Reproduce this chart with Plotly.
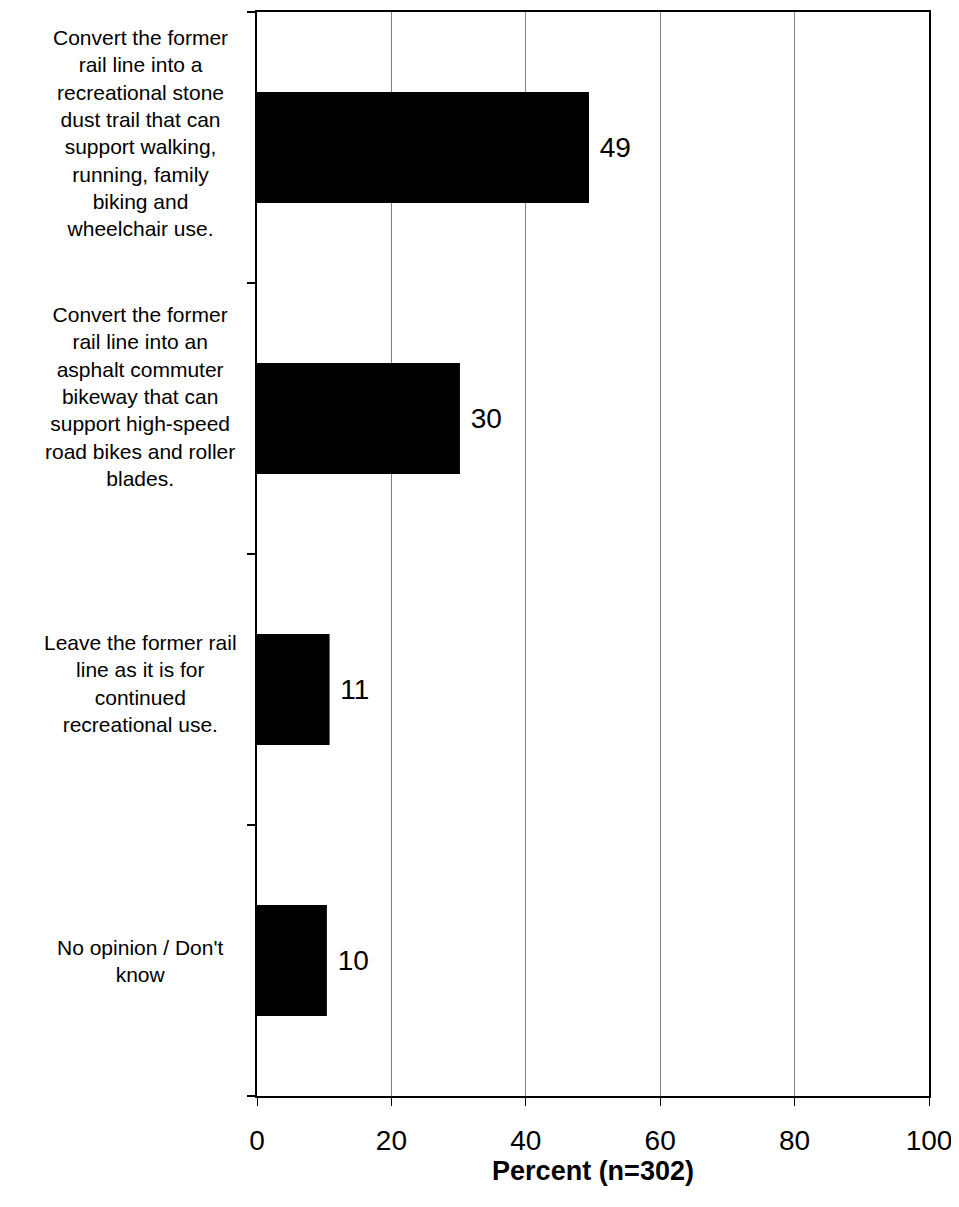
import plotly.graph_objects as go

categories = [
    "Convert the former<br>rail line into a<br>recreational stone<br>dust trail that can<br>support walking,<br>running, family<br>biking and<br>wheelchair use.",
    "Convert the former<br>rail line into an<br>asphalt commuter<br>bikeway that can<br>support high-speed<br>road bikes and roller<br>blades.",
    "Leave the former rail<br>line as it is for<br>continued<br>recreational use.",
    "No opinion / Don't<br>know",
]
values = [49.4, 30.2, 10.8, 10.4]
x_ticks = [0, 20, 40, 60, 80, 100]
x_title = "Percent (n=302)"

FONT = "Liberation Sans, Arial, sans-serif"
label_yshift = [15, 22, 6, 0]

fig = go.Figure()
fig.add_trace(go.Bar(
    y=list(range(len(categories))),
    x=values,
    orientation="h",
    marker=dict(color="black", line=dict(width=0)),
    texttemplate="\u00a0%{x:.0f}",
    textposition="outside",
    textfont=dict(family=FONT, size=28, color="black"),
    cliponaxis=False,
    width=0.41,
))

for i, cat in enumerate(categories):
    fig.add_annotation(
        x=-0.174, xref="paper", y=i, yref="y",
        text=cat, showarrow=False, xanchor="center", yanchor="middle",
        align="center", yshift=label_yshift[i],
        font=dict(family=FONT, size=21, color="black"),
    )

fig.update_layout(
    width=951, height=1191,
    margin=dict(l=249, r=30, t=2, b=103),
    paper_bgcolor="white", plot_bgcolor="white",
    showlegend=False,
    font=dict(family=FONT, color="black"),
)
fig.update_xaxes(
    range=[0, 100], tickvals=x_ticks, ticktext=[str(t) for t in x_ticks],
    showgrid=True, gridcolor="#808080", gridwidth=1,
    showline=True, linecolor="black", linewidth=2, mirror=True,
    ticks="outside", ticklen=8, tickcolor="black", tickwidth=1,
    ticklabelstandoff=10,
    tickfont=dict(family=FONT, size=28, color="black"),
    zeroline=False,
    title=dict(text="<b>" + x_title + "</b>", font=dict(family=FONT, size=27, color="black"), standoff=3),
)
fig.update_yaxes(
    range=[3.5, -0.5],
    tickvals=[-0.5, 0.5, 1.5, 2.5, 3.5], ticktext=["", "", "", "", ""],
    showgrid=False, zeroline=False,
    showline=True, linecolor="black", linewidth=2, mirror=True,
    ticks="outside", ticklen=8, tickcolor="black", tickwidth=2,
)

fig.write_html("out.html")
